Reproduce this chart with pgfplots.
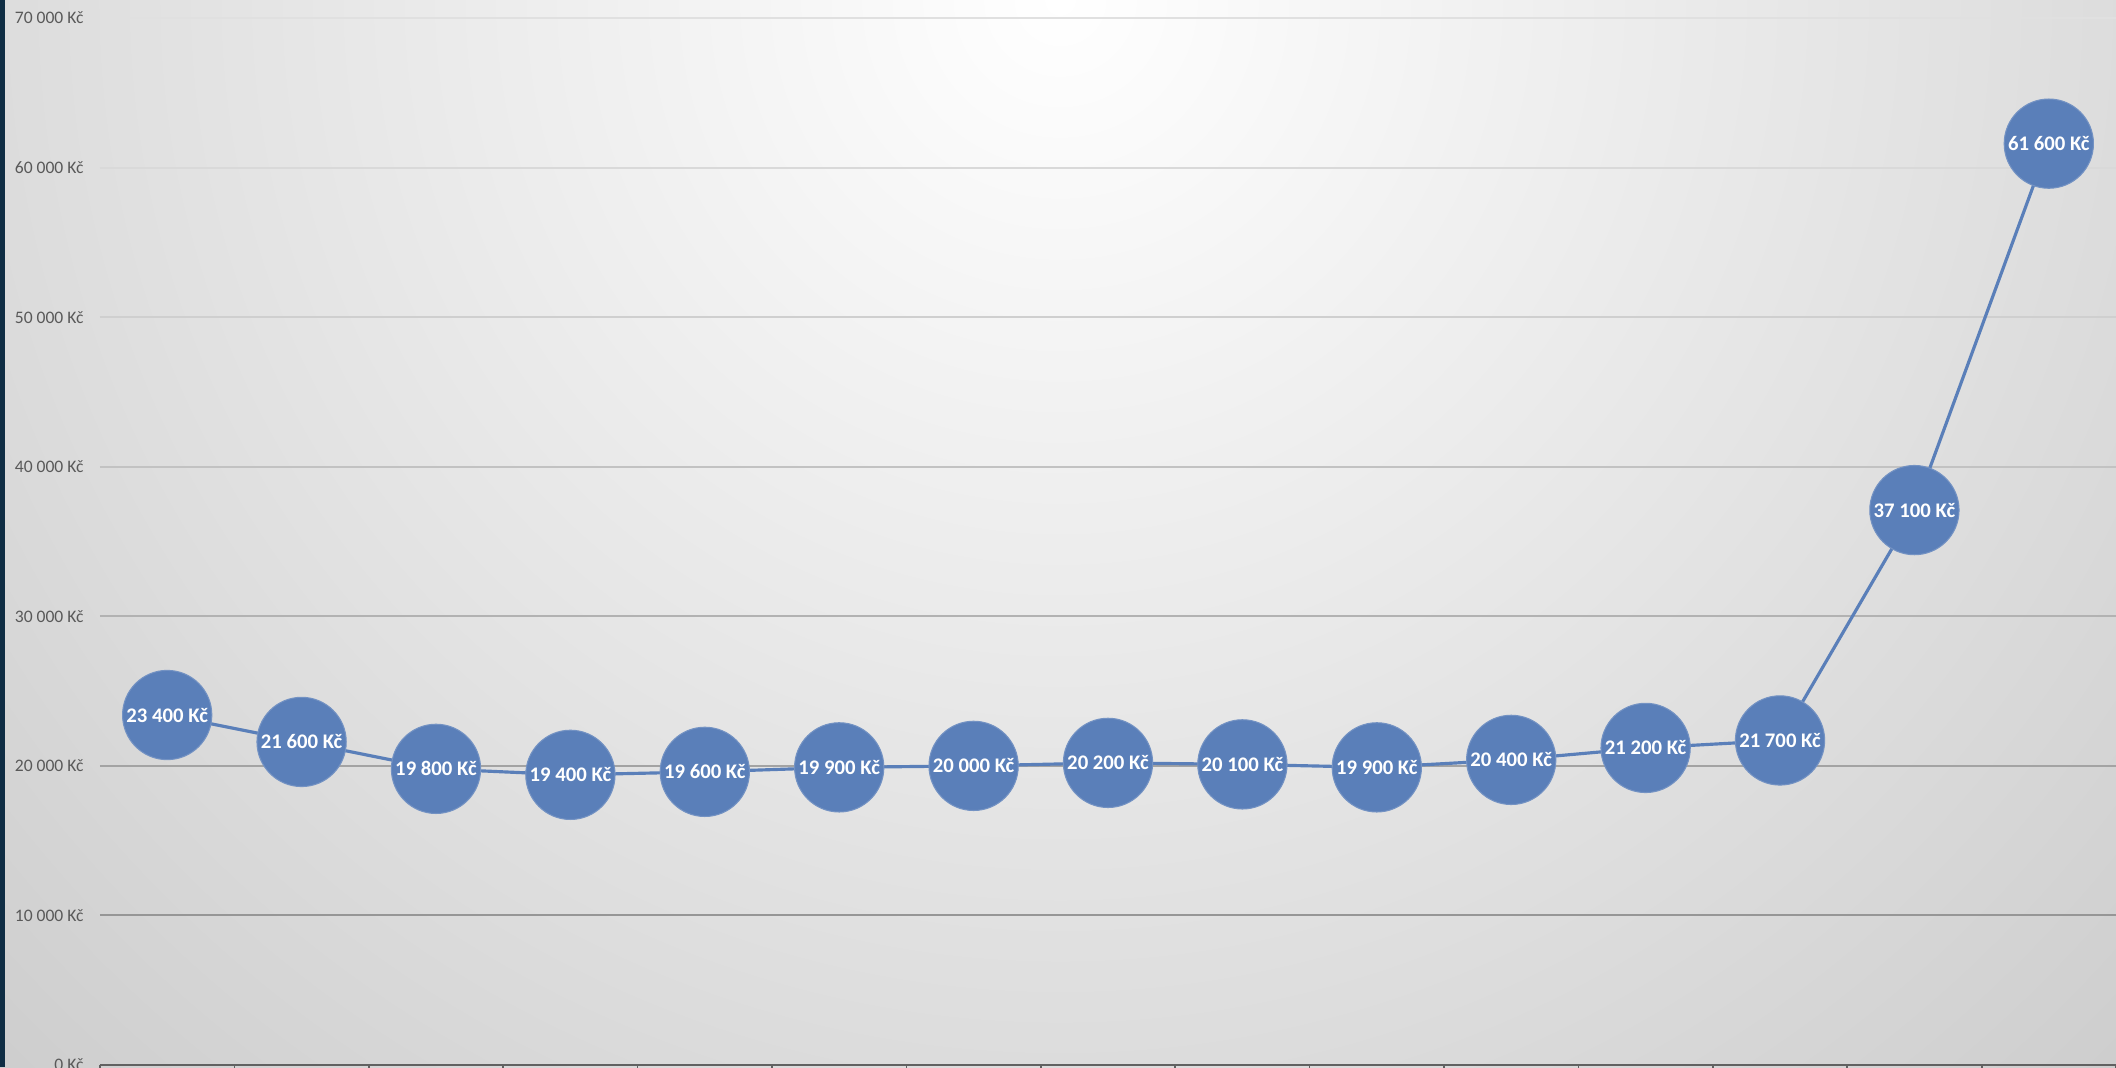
\documentclass[border=0pt]{standalone}
\usepackage{fontspec}
\setmainfont{Carlito}
\usepackage{pgfplots}
\pgfplotsset{compat=1.18}

\definecolor{dot}{HTML}{5A7FB9}
\definecolor{ticktext}{HTML}{595959}
\definecolor{strip}{HTML}{0F2D44}
\definecolor{bgouter}{HTML}{C4C4C4}
\pgfdeclareradialshading{bgshade}{\pgfpoint{0bp}{0bp}}{color(0bp)=(white); color(25bp)=(bgouter); color(50bp)=(bgouter)}

\begin{document}
\begin{tikzpicture}
  % background
  \begin{scope}
    \clip (0,0) rectangle (211.6mm,106.7mm);
    \shade[shading=bgshade] (106mm,106.7mm) circle (180mm);
  \end{scope}
  \fill[strip] (0,0) rectangle (0.45mm,106.7mm);

  \begin{axis}[
      at={(10mm,0.2mm)}, anchor=south west,
      scale only axis,
      width=201.6mm, height=104.7mm,
      xmin=-0.5, xmax=14.5,
      ymin=0, ymax=70000,
      axis lines*=left,
      y axis line style={draw=none},
      x axis line style={draw=black!62, line width=0.6pt},
      xtick={-0.5,0.5,...,14.5}, xticklabels={},
      tick align=outside, xtick pos=bottom,
      major tick length=2mm,
      xtick style={draw=black!62, line width=0.5pt},
      ytick={0,10000,...,70000},
      ytick style={draw=none},
      yticklabels={0 Kč,10 000 Kč,20 000 Kč,30 000 Kč,40 000 Kč,50 000 Kč,60 000 Kč,70 000 Kč},
      yticklabel style={font=\fontsize{5}{6}\selectfont, text=ticktext, anchor=east, xshift=1.6mm},
      clip=false,
    ]
    % gridlines, darker toward the bottom as in the original
    \foreach \v/\g in {10000/41, 20000/36, 30000/30, 40000/24, 50000/19, 60000/15, 70000/12} {
      \edef\tmp{\noexpand\draw[black!\g!white, line width=0.6pt] (axis cs:-0.5,\v) -- (axis cs:14.5,\v);}
      \tmp
    }
    \addplot[
      color=dot, line width=0.9pt,
      mark=*, mark size=12.7pt,
      mark options={fill=dot, draw=dot!85!white, line width=0.3pt},
      point meta=explicit symbolic,
      nodes near coords,
      every node near coord/.append style={anchor=center, text=white,
        font=\fontsize{5.9}{7}\selectfont\bfseries},
    ] coordinates {
      (0,23400) [23 400 Kč]
      (1,21600) [21 600 Kč]
      (2,19800) [19 800 Kč]
      (3,19400) [19 400 Kč]
      (4,19600) [19 600 Kč]
      (5,19900) [19 900 Kč]
      (6,20000) [20 000 Kč]
      (7,20200) [20 200 Kč]
      (8,20100) [20 100 Kč]
      (9,19900) [19 900 Kč]
      (10,20400) [20 400 Kč]
      (11,21200) [21 200 Kč]
      (12,21700) [21 700 Kč]
      (13,37100) [37 100 Kč]
      (14,61600) [61 600 Kč]
    };
  \end{axis}
  \pgfresetboundingbox
  \useasboundingbox (0,0) rectangle (211.6mm,106.7mm);
\end{tikzpicture}
\end{document}
